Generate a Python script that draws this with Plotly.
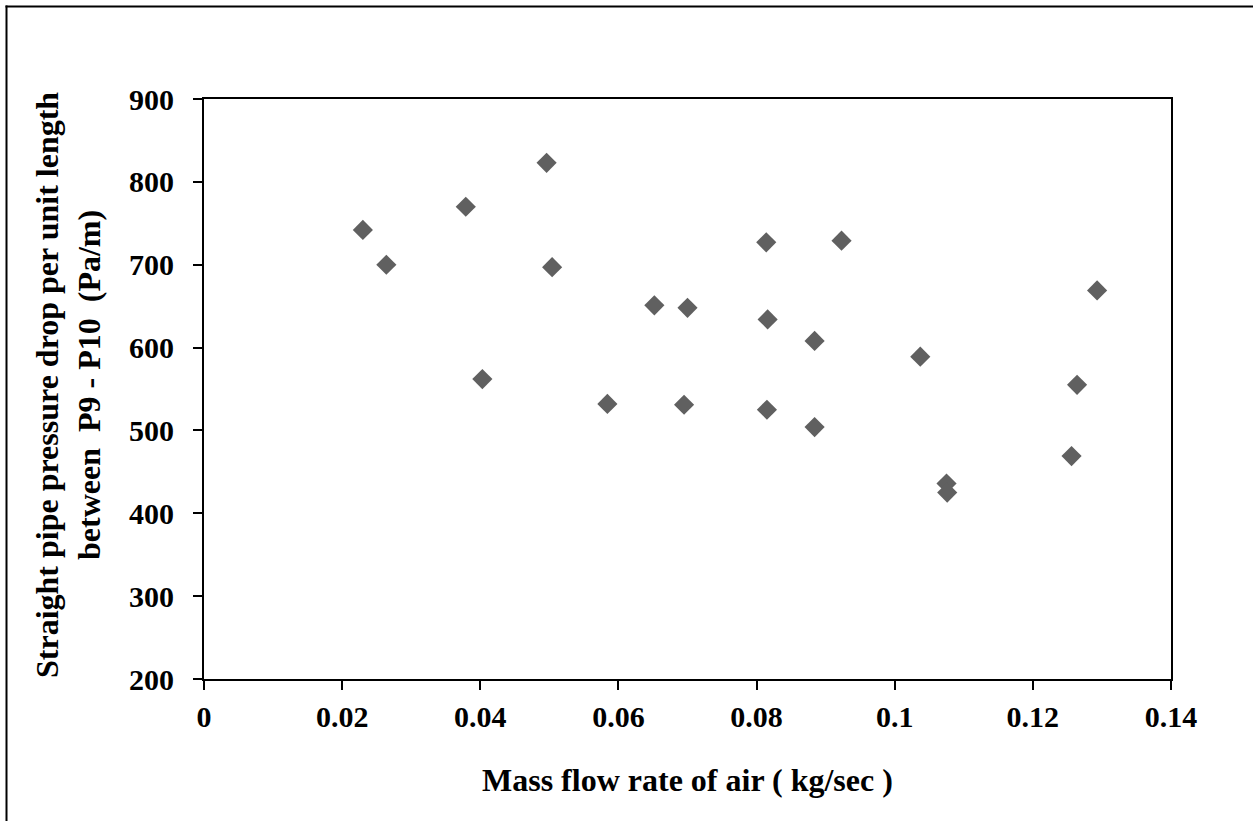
import plotly.graph_objects as go

# Mass flow rate of air (kg/s) and straight-pipe pressure drop between P9 and P10 (Pa/m)
mass_flow = [0.0230, 0.0264, 0.0379, 0.0403, 0.0496, 0.0504, 0.0584, 0.0652,
             0.0695, 0.0700, 0.0814, 0.0816, 0.0815, 0.0884, 0.0884, 0.0923,
             0.1037, 0.1075, 0.1076, 0.1256, 0.1264, 0.1293]
pressure_drop = [742, 700, 770, 562, 823, 697, 532, 651,
                 531, 648, 727, 634, 525, 608, 504, 729,
                 589, 436, 425, 469, 555, 669]

x_ticks = [0, 0.02, 0.04, 0.06, 0.08, 0.1, 0.12, 0.14]
x_tick_text = ["0", "0.02", "0.04", "0.06", "0.08", "0.1", "0.12", "0.14"]
y_ticks = [200, 300, 400, 500, 600, 700, 800, 900]

x_title = "Mass flow rate of air ( kg/sec )"
y_title = "Straight pipe pressure drop per unit length<br>between  P9 - P10  (Pa/m)"

W, H = 1253, 821
L, R, T, B = 204, 1171, 99, 679
FONT = "Liberation Serif, Times New Roman, serif"


def px_x(p):
    return (p - L) / (R - L)


def px_y(p):
    return (B - p) / (B - T)


fig = go.Figure(
    go.Scatter(
        x=mass_flow,
        y=pressure_drop,
        mode="markers",
        marker=dict(symbol="diamond", size=15.5, color="#606060",
                    line=dict(width=0)),
        showlegend=False,
        cliponaxis=False,
    )
)

axis_common = dict(
    showgrid=False,
    zeroline=False,
    showline=True,
    linecolor="black",
    linewidth=2,
    mirror=True,
    ticks="outside",
    ticklen=9,
    tickwidth=1.5,
    tickcolor="black",
    tickfont=dict(family=FONT, size=30, color="black", weight="bold"),
)

fig.update_xaxes(range=[0, 0.14], tickvals=x_ticks, ticktext=x_tick_text,
                 ticklabelstandoff=1, **axis_common)
fig.update_yaxes(range=[200, 900], tickvals=y_ticks,
                 ticklabelstandoff=13, **axis_common)

fig.update_layout(
    width=W,
    height=H,
    margin=dict(l=L, r=W - R, t=T, b=H - B, pad=0),
    paper_bgcolor="white",
    plot_bgcolor="white",
    annotations=[
        dict(text=x_title, xref="paper", yref="paper",
             x=px_x((L + R) / 2), y=px_y(780), xanchor="center", yanchor="middle",
             showarrow=False,
             font=dict(family=FONT, size=32, color="black", weight="bold")),
        dict(text=y_title, xref="paper", yref="paper",
             x=px_x(68), y=px_y(385), xanchor="center", yanchor="middle",
             textangle=-90, showarrow=False,
             font=dict(family=FONT, size=32, color="black", weight="bold")),
    ],
    shapes=[
        dict(type="line", xref="paper", yref="paper",
             x0=px_x(6.5), x1=px_x(6.5), y0=px_y(H + 5), y1=px_y(5.5),
             line=dict(color="black", width=2)),
        dict(type="line", xref="paper", yref="paper",
             x0=px_x(5.5), x1=px_x(W + 5), y0=px_y(6.5), y1=px_y(6.5),
             line=dict(color="black", width=2)),
    ],
)

fig.write_html("out.html")
